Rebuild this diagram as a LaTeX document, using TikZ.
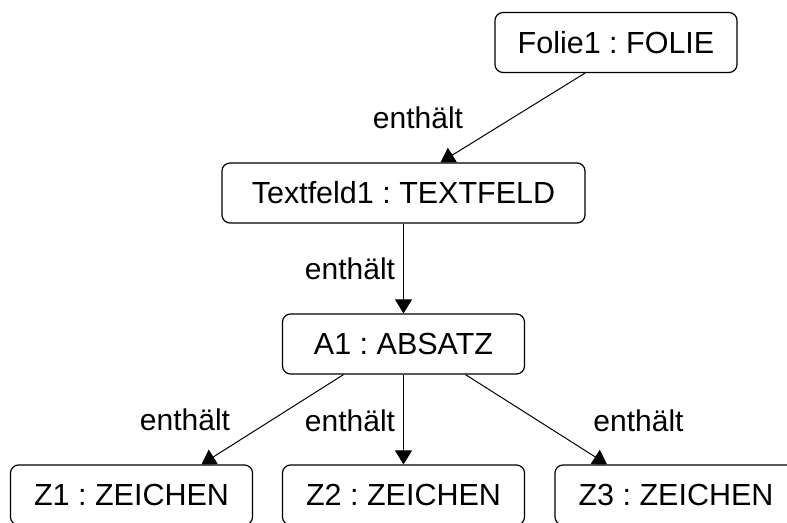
\documentclass[tikz,border=0pt]{standalone}
\usepackage{fontspec}
\setmainfont{Liberation Sans}
\usetikzlibrary{arrows.meta,calc}
\frenchspacing
\begin{document}
\begin{tikzpicture}[x=1pt,y=-1pt,
  obj/.style={draw, line width=1.2pt, rounded corners=8pt, minimum width=242pt, minimum height=60pt,
    inner sep=0pt, text height=21.8pt, text depth=0pt, font=\fontsize{30.5}{36}\selectfont},
  lbl/.style={anchor=base, inner sep=0pt, font=\fontsize{30}{36}\selectfont},
  rel/.style={line width=1pt, -{Triangle[length=14pt,width=17pt]}}]
\useasboundingbox (0,0) rectangle (787,522);
\clip (0,0) rectangle (787,522);
\fill[white] (0,0) rectangle (787,522);
\node[obj] (folie) at (616,42.5) {Folie1 : FOLIE};
\node[obj, minimum width=363pt] (textfeld) at (403.5,193) {Textfeld1 : TEXTFELD};
\node[obj] (a1) at (403.5,344) {A1 : ABSATZ};
\node[obj] (z1) at (131.5,495) {Z1 : ZEICHEN};
\node[obj] (z2) at (403.5,495) {Z2 : ZEICHEN};
\node[obj] (z3) at (676,495) {Z3 : ZEICHEN};
\draw[rel] ($(folie.south)+(-31,0)$) -- ($(textfeld.north)+(37,0)$);
\draw[rel] (textfeld) -- (a1);
\draw[rel] ($(a1.south)+(-60,0)$) -- ($(z1.north)+(70,0)$);
\draw[rel] (a1) -- (z2);
\draw[rel] ($(a1.south)+(62,0)$) -- ($(z3.north)+(-69,0)$);
\node[lbl] (l1) at (418,128) {enthält};
\node[lbl] (l2) at (350,279) {enthält};
\node[lbl] (l3) at (185,430) {enthält};
\node[lbl] (l4) at (350,431) {enthält};
\node[lbl] (l5) at (638.5,431) {enthält};
\end{tikzpicture}
\end{document}
